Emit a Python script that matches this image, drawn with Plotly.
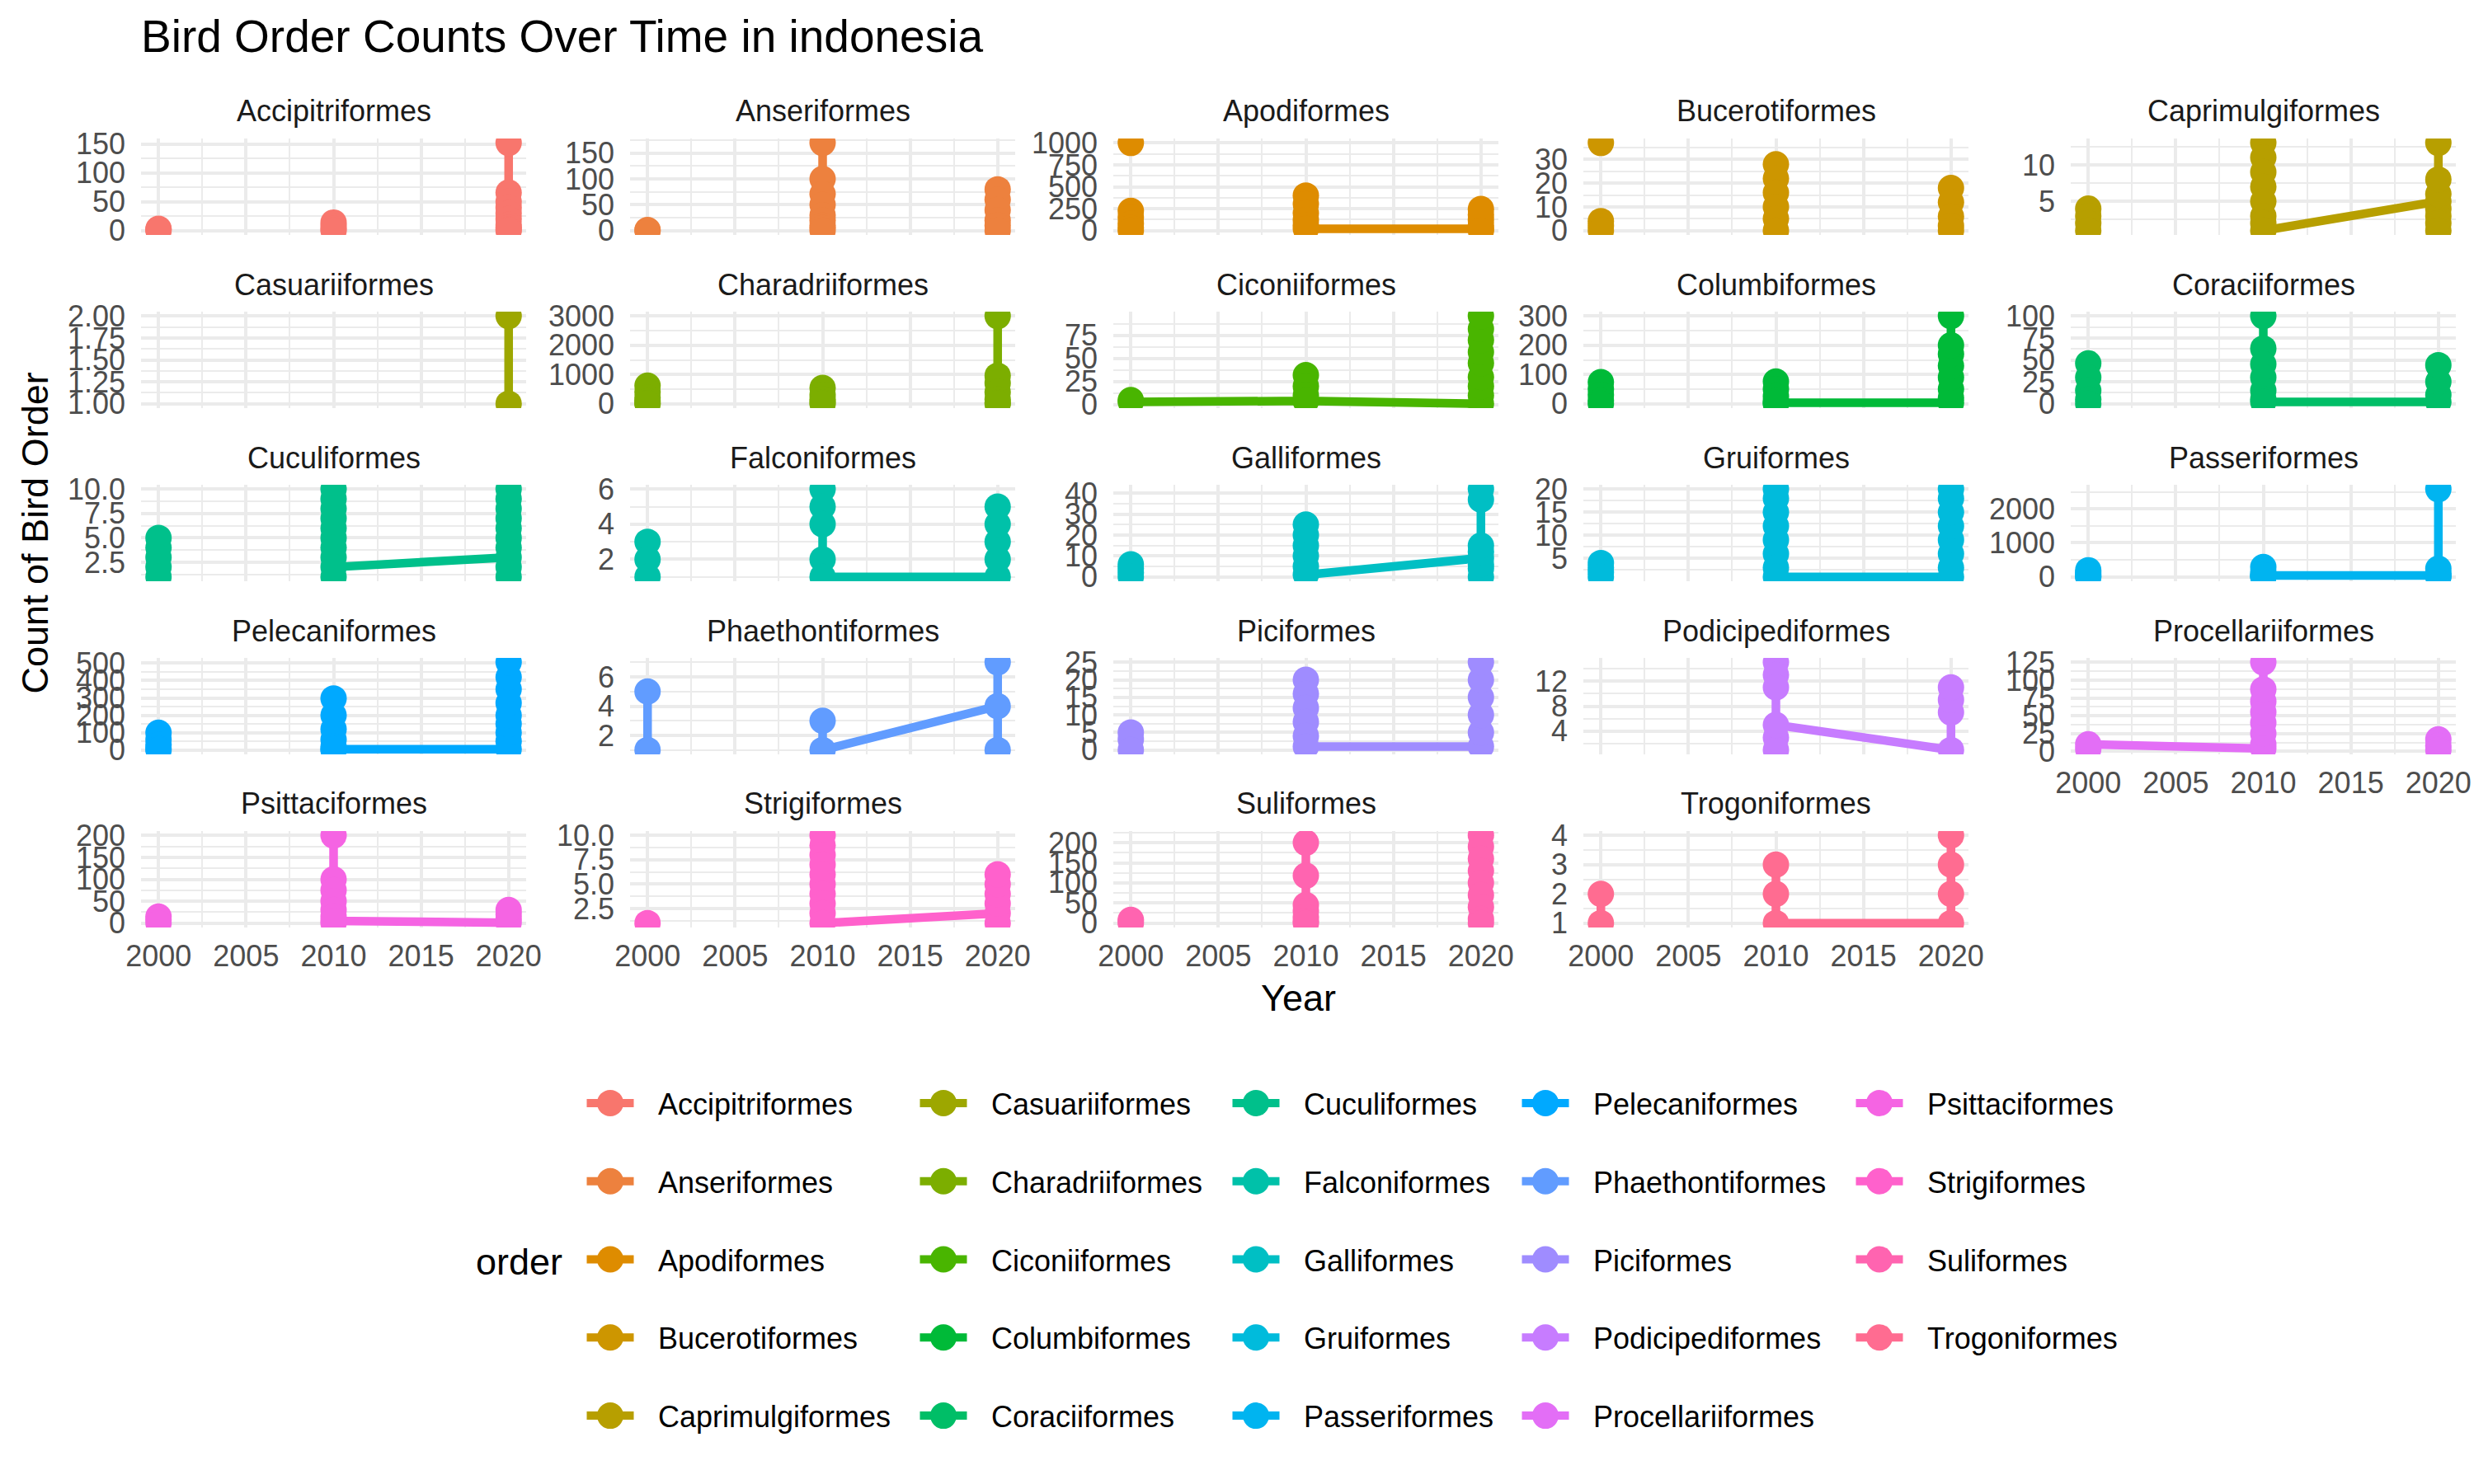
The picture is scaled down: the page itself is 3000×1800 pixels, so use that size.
import math
import plotly.graph_objects as go

# ---------------- data ----------------
orders = [
    "Accipitriformes", "Anseriformes", "Apodiformes", "Bucerotiformes", "Caprimulgiformes",
    "Casuariiformes", "Charadriiformes", "Ciconiiformes", "Columbiformes", "Coraciiformes",
    "Cuculiformes", "Falconiformes", "Galliformes", "Gruiformes", "Passeriformes",
    "Pelecaniformes", "Phaethontiformes", "Piciformes", "Podicipediformes", "Procellariiformes",
    "Psittaciformes", "Strigiformes", "Suliformes", "Trogoniformes",
]
years = [2000, 2010, 2020]

# records per order and year, in data order; None = missing count (breaks the line)
counts_2000 = [
    [3, 2, 0, None],
    [1, 0, None],
    [1000, None, 225, 150, 80, 30, 0, None],
    [37, None, 4, 2, 0, None],
    [4, 3, 2, 1, None],
    [],
    [620, 400, 200, 80, 20, 0, None],
    [5, 3],
    [74, 50, 30, 10, 0, None],
    [46, 30, 15, 5, 0, None],
    [5, 4, 3, 2, 1, None],
    [3, 2, 1, None],
    [6, 4, 2, 0, None],
    [4, 3, 2, 1, None],
    [195, 120, 60, 10, 0, None],
    [99, 60, 30, 8, 0, None],
    [5, 1, None],
    [5, 3, 0, None],
    [],
    [3, 10],
    [15, 8, 0, None],
    [1, None],
    [8, 4, 0, None],
    [2, 1, None],
]
counts_2010 = [
    [14, 8, 3, 0, None],
    [170, 100, 71, 50, 30, 20, 10, 5, 0, None],
    [400, 300, 200, 120, 60, 20],
    [28, 22, 16, 10, 5, 0, None],
    [13, 11, 9, 7, 5, 3, 2, 1],
    [],
    [540, 300, 150, 50, 0, None],
    [4, 32, 20, 10, 4],
    [76, 50, 25, 8, 0, 3],
    [100, 63, 45, 30, 15, 5, 2],
    [10, 9, 8, 7, 6, 5, 4, 3, 1, 2],
    [6, 5, 4, 2, 1],
    [25, 20, 15, 10, 5, 1],
    [20, 18, 15, 12, 9, 6, 3, 1],
    [290, 150, 60, 10, 0, 40],
    [297, 200, 120, 60, 20, 0, 5],
    [3, 1],
    [20, 16, 12, 8, 4, 1],
    [15, 13, 11, 3, 1, 5],
    [4, 10, 25, 40, 55, 70, 87, 125, None],
    [200, 100, 75, 50, 30, 15, 0, 5],
    [10, 9, 8, 7, 6, 5, 4, 3, 2, 1],
    [200, 118, 45, 30, 15, 5, 0, None],
    [3, 2, 1],
]
counts_2020 = [
    [152, 66, 50, 40, 30, 20, 10, 5, 2, 0],
    [80, 60, 40, 20, 10, 0],
    [20, 60, 120, 180, 245, 0],
    [18, 12, 6, 2, 0],
    [5, 4, 3, 2, 1, 6, 8, 13],
    [2, 1],
    [3000, 960, 700, 400, 150, 30, 0],
    [1, 10, 20, 30, 45, 57, 70, 82, 96],
    [3, 20, 50, 90, 130, 170, 200, 300],
    [2, 10, 25, 44],
    [3, 1, 2, 4, 5, 6, 7, 8, 9, 10],
    [1, 2, 3, 4, 5],
    [9, 4, 0, 6, 12, 15, 37, 42],
    [1, 3, 6, 9, 12, 15, 18, 20],
    [40, 0, 100, 240, 2580],
    [5, 50, 100, 150, 200, 270, 350, 420, 505],
    [4, 1, 7],
    [1, 5, 10, 15, 20, 25],
    [1, 7, 9, 11],
    [17, 8, 2],
    [1, 10, 20, 30],
    [2, 1, 3, 4, 5, 6],
    [218, 190, 160, 130, 100, 70, 40, 10, 0],
    [1, 2, 3, 4],
]

# y-axis tick labels of each facet (free y scales)
y_breaks = [
    [0, 50, 100, 150], [0, 50, 100, 150], [0, 250, 500, 750, 1000], [0, 10, 20, 30], [5, 10],
    [1.0, 1.25, 1.5, 1.75, 2.0], [0, 1000, 2000, 3000], [0, 25, 50, 75], [0, 100, 200, 300], [0, 25, 50, 75, 100],
    [2.5, 5.0, 7.5, 10.0], [2, 4, 6], [0, 10, 20, 30, 40], [5, 10, 15, 20], [0, 1000, 2000],
    [0, 100, 200, 300, 400, 500], [2, 4, 6], [0, 5, 10, 15, 20, 25], [4, 8, 12], [0, 25, 50, 75, 100, 125],
    [0, 50, 100, 150, 200], [2.5, 5.0, 7.5, 10.0], [0, 50, 100, 150, 200], [1, 2, 3, 4],
]
x_breaks = [2000, 2005, 2010, 2015, 2020]

title_text = "Bird Order Counts Over Time in indonesia"
x_title = "Year"
y_title = "Count of Bird Order"
legend_title = "order"

# ---------------- style / layout ----------------
W, H = 3000, 1800
NCOL = 5
col_left = [171, 764, 1350, 1920, 2511]
panel_w = 467
row_top = [168, 378, 588, 798, 1008]
panel_h = 117
FONT = "Liberation Sans, Arial, Helvetica, sans-serif"
GRID = "#EBEBEB"
TICKCOL = "#4D4D4D"


def hcl_hex(h, c, l):
    # R's hcl() (polar CIE-LUV, D65) -> sRGB hex
    Xn, Yn, Zn = 95.047, 100.0, 108.883
    hr = math.radians(h)
    U, V = c * math.cos(hr), c * math.sin(hr)
    Y = Yn * ((l + 16) / 116) ** 3 if l > 7.999592 else Yn * l / 903.3
    t = Xn + Yn + Zn
    x, y = Xn / t, Yn / t
    uN = 2 * x / (6 * y - x + 1.5)
    vN = 4.5 * y / (6 * y - x + 1.5)
    u = U / (13 * l) + uN
    v = V / (13 * l) + vN
    X = 9.0 * Y * u / (4 * v)
    Z = -X / 3 - 5 * Y + 3 * Y / v

    def g(val):
        val /= Yn
        val = 1.055 * val ** (1 / 2.4) - 0.055 if val > 0.00304 else 12.92 * val
        return max(0, min(255, int(round(255 * val))))

    r = g(3.240479 * X - 1.537150 * Y - 0.498535 * Z)
    gg = g(-0.969256 * X + 1.875992 * Y + 0.041556 * Z)
    b = g(0.055648 * X - 0.204043 * Y + 1.057311 * Z)
    return "#%02X%02X%02X" % (r, gg, b)


def hue_pal(n):
    step = 360 / n
    return [hcl_hex(15 + k * step, 100, 65) for k in range(n)]


def fmt_ticks(vals):
    dec = 0
    for v in vals:
        s = repr(float(v)).rstrip("0").rstrip(".")
        if "." in s:
            dec = max(dec, len(s.split(".")[1]))
    return [f"{v:.{dec}f}" for v in vals]


def minor_of(b, lo, hi):
    step = b[1] - b[0]
    ext = [b[0] - step] + list(b) + [b[-1] + step]
    mids = [(a + c) / 2 for a, c in zip(ext[:-1], ext[1:])]
    return [m for m in mids if lo <= m <= hi]


colors = hue_pal(len(orders))
fig = go.Figure()
annotations = []
layout = {}

n = len(orders)
last_in_col = {}
for i in range(n):
    last_in_col[i % NCOL] = i

for i, name in enumerate(orders):
    xs, ys = [], []
    for yr, vals in zip(years, (counts_2000[i], counts_2010[i], counts_2020[i])):
        for v in vals:
            xs.append(yr)
            ys.append(v)
    r, c = divmod(i, NCOL)
    k = i + 1
    leg = "legend" if i // 5 == 0 else f"legend{i // 5 + 1}"
    fig.add_trace(go.Scatter(
        x=xs, y=ys, mode="lines+markers", name=name,
        line=dict(color=colors[i], width=10.5),
        marker=dict(color=colors[i], size=32),
        connectgaps=False, cliponaxis=True,
        xaxis=f"x{k}", yaxis=f"y{k}", legend=leg, legendgroup=name,
        hoverinfo="x+y+name",
    ))

    vals = [v for v in ys if v is not None]
    lo, hi = min(vals), max(vals)
    if hi == lo:
        lo, hi = lo - 0.5, hi + 0.5
    pad = 0.05 * (hi - lo)
    ylo, yhi = lo - pad, hi + pad

    x0 = col_left[c] / W
    x1 = (col_left[c] + panel_w) / W
    y1 = 1 - row_top[r] / H
    y0 = 1 - (row_top[r] + panel_h) / H

    xa = dict(domain=[x0, x1], anchor=f"y{k}", range=[1999, 2021],
              tickmode="array", tickvals=x_breaks, ticktext=[str(v) for v in x_breaks],
              showticklabels=(i == last_in_col[c]),
              showgrid=True, gridcolor=GRID, gridwidth=4.4,
              minor=dict(tickmode="array", tickvals=minor_of(x_breaks, 1999, 2021),
                         showgrid=True, gridcolor=GRID, gridwidth=2.2, ticks=""),
              zeroline=False, showline=False, ticks="", automargin=False,
              tickfont=dict(family=FONT, size=36, color=TICKCOL),
              ticklabelstandoff=10, fixedrange=True)
    yb = y_breaks[i]
    ya = dict(domain=[y0, y1], anchor=f"x{k}", range=[ylo, yhi],
              tickmode="array", tickvals=yb, ticktext=fmt_ticks(yb),
              showgrid=True, gridcolor=GRID, gridwidth=4.4,
              minor=dict(tickmode="array", tickvals=minor_of(yb, ylo, yhi),
                         showgrid=True, gridcolor=GRID, gridwidth=2.2, ticks=""),
              zeroline=False, showline=False, ticks="", automargin=False,
              tickfont=dict(family=FONT, size=36, color=TICKCOL),
              ticklabelstandoff=18, fixedrange=True)
    layout[f"xaxis{k}"] = xa
    layout[f"yaxis{k}"] = ya

    annotations.append(dict(
        text=name, xref="paper", yref="paper",
        x=(col_left[c] + panel_w / 2) / W, y=1 - (row_top[r] - 33) / H,
        xanchor="center", yanchor="middle", showarrow=False,
        font=dict(family=FONT, size=36, color="#1A1A1A")))

# axis titles and legend title
annotations.append(dict(text=x_title, xref="paper", yref="paper",
                        x=(col_left[0] + col_left[-1] + panel_w) / 2 / W, y=1 - 1210 / H,
                        xanchor="center", yanchor="middle", showarrow=False,
                        font=dict(family=FONT, size=45, color="black")))
annotations.append(dict(text=y_title, xref="paper", yref="paper",
                        x=42 / W, y=1 - (row_top[0] + row_top[-1] + panel_h) / 2 / H,
                        xanchor="center", yanchor="middle", textangle=-90, showarrow=False,
                        font=dict(family=FONT, size=45, color="black")))
annotations.append(dict(text=legend_title, xref="paper", yref="paper",
                        x=575 / W, y=1 - 1530 / H,
                        xanchor="left", yanchor="middle", showarrow=False,
                        font=dict(family=FONT, size=45, color="black")))

key_center = [740, 1144, 1523, 1874, 2279]
ITEMW = 106
for j, cx in enumerate(key_center):
    key = "legend" if j == 0 else f"legend{j + 1}"
    layout[key] = dict(x=(cx - 5 - ITEMW / 2) / W, xanchor="left", y=1 - 1308 / H, yanchor="top",
                       orientation="v", bgcolor="rgba(0,0,0,0)", borderwidth=0,
                       font=dict(family=FONT, size=36, color="black"),
                       itemwidth=ITEMW, tracegroupgap=45, traceorder="grouped")

fig.update_layout(
    width=W, height=H, autosize=False,
    margin=dict(l=0, r=0, t=0, b=0, autoexpand=False),
    paper_bgcolor="white", plot_bgcolor="white",
    title=dict(text=title_text, x=171 / W, xanchor="left", y=1 - 44 / H, yanchor="middle",
               font=dict(family=FONT, size=55, color="black")),
    annotations=annotations,
    showlegend=True,
    **layout,
)

# legend keys as ggplot draws them: point at plotted size, short line through it
post = """
var gd = document.getElementById('{plot_id}');
function ggKeys() {
  gd.querySelectorAll('.legendpoints path.scatterpts').forEach(function (p) {
    p.setAttribute('d', 'M16,0A16,16 0 1,1 0,-16A16,16 0 0,1 16,0Z');
  });
  gd.querySelectorAll('.legendlines path.js-line').forEach(function (p) {
    var d = p.getAttribute('d') || '';
    var m = d.match(/^M([-\\d.]+),([-\\d.]+)h([-\\d.]+)$/);
    if (m) {
      var c = parseFloat(m[1]) + parseFloat(m[3]) / 2;
      p.setAttribute('d', 'M' + (c - 28.5) + ',' + m[2] + 'h57');
    }
  });
}
ggKeys();
gd.on('plotly_afterplot', ggKeys);
"""

fig.write_html("out.html", post_script=post)
